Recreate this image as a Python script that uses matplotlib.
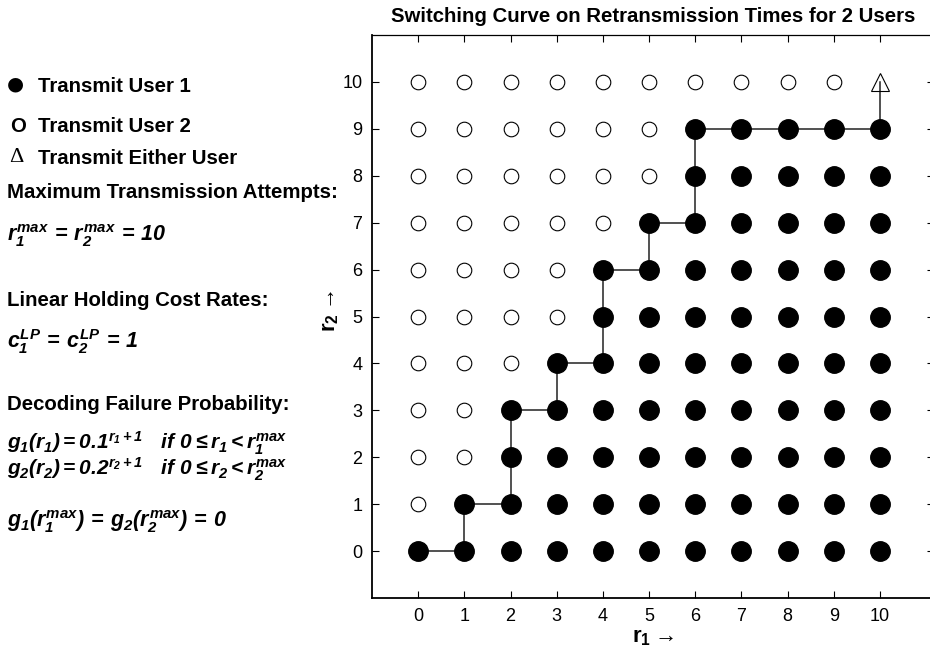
import numpy as np
import matplotlib
matplotlib.use("Agg")
import matplotlib.pyplot as plt

plt.rcParams['font.family'] = ['Liberation Sans', 'DejaVu Sans']
plt.rcParams['mathtext.fontset'] = 'custom'
plt.rcParams['mathtext.rm'] = 'Liberation Sans:italic:bold'
plt.rcParams['mathtext.it'] = 'Liberation Sans:italic:bold'
plt.rcParams['mathtext.bf'] = 'Liberation Sans:bold'

# retransmission counts on both axes
r1_vals = list(range(11))
r2_vals = list(range(11))
# highest r2 in each r1 column where user 1 transmits
switch_r2 = [0, 1, 3, 4, 6, 7, 9, 9, 9, 9, 9]
either_point = (10, 10)
r_max = 10

fig = plt.figure(figsize=(9.3, 6.54), dpi=100)
W, H = 930, 654
ax = fig.add_axes([372 / W, 1 - 598 / H, (934 - 372) / W, (598 - 35) / H])

# switching curve
ax.plot(r1_vals + [either_point[0]], switch_r2 + [either_point[1]],
        drawstyle='steps-post', color='#222222', lw=1.1, zorder=1)

fill_x, fill_y, open_x, open_y = [], [], [], []
for i in r1_vals:
    for j in r2_vals:
        if (i, j) == either_point:
            continue
        if j <= switch_r2[i]:
            fill_x.append(i); fill_y.append(j)
        else:
            open_x.append(i); open_y.append(j)

ax.plot(fill_x, fill_y, 'o', ms=14, mfc='black', mec='black', zorder=3)
ax.plot(open_x, open_y, 'o', ms=10.5, mfc='white', mec='black', mew=0.8, zorder=3)
ax.plot([either_point[0]], [either_point[1]], '^', ms=13, mfc='none',
        mec='black', mew=0.8, zorder=3)

ax.set_xlim(-1, 11.17)
ax.set_ylim(-1, 11)
ax.set_xticks(r1_vals)
ax.set_yticks(r2_vals)
ax.tick_params(direction='in', top=True, right=True, length=5, width=0.8,
               labelsize=13, pad=7)
for side in ['left', 'bottom']:
    ax.spines[side].set_linewidth(1.3)
for side in ['top', 'right']:
    ax.spines[side].set_linewidth(0.9)

ax.set_title('Switching Curve on Retransmission Times for 2 Users',
             fontsize=14.7, fontweight='bold', pad=9)
ax.set_xlabel(r'$\mathbf{r_1}\rightarrow$', fontsize=16, labelpad=2)
ax.set_ylabel(r'$\mathbf{r_2}\rightarrow$', fontsize=16)
ax.yaxis.set_label_coords(-0.056, 0.51)

# left-hand description panel
def ftext(x, y, s, **kw):
    fig.text(x / W, 1 - y / H, s, va='center', ha='left', **kw)

fs = 14.7
ftext(7, 84, '\u25CF', fontsize=14, family='DejaVu Sans')
ftext(38, 87, 'Transmit User 1', fontsize=fs, fontweight='bold')
ftext(10, 127, 'O', fontsize=fs, fontweight='bold')
ftext(38, 127, 'Transmit User 2', fontsize=fs, fontweight='bold')
ftext(9, 157, '\u0394', fontsize=16, family='Liberation Serif')
ftext(38, 158, 'Transmit Either User', fontsize=fs, fontweight='bold')
ftext(7, 192, 'Maximum Transmission Attempts:', fontsize=fs, fontweight='bold')
ftext(7, 236, r'$r_1^{max}\,=\,r_2^{max}\,=\,%d$' % r_max, fontsize=15.5)
ftext(7, 300, 'Linear Holding Cost Rates:', fontsize=fs, fontweight='bold')
ftext(7, 342, r'$c_1^{LP}\,=\,c_2^{LP}\,=\,1$', fontsize=15.5)
ftext(7, 405, 'Decoding Failure Probability:', fontsize=fs, fontweight='bold')
ftext(7, 443, r'$g_1(r_1) = 0.1^{r_1+1}\quad if\ 0 \leq r_1 < r_1^{max}$', fontsize=15)
ftext(7, 469, r'$g_2(r_2) = 0.2^{r_2+1}\quad if\ 0 \leq r_2 < r_2^{max}$', fontsize=15)
ftext(7, 522, r'$g_1(r_1^{max})\,=\,g_2(r_2^{max})\,=\,0$', fontsize=15.5)

fig.savefig('out.png', dpi=100)
